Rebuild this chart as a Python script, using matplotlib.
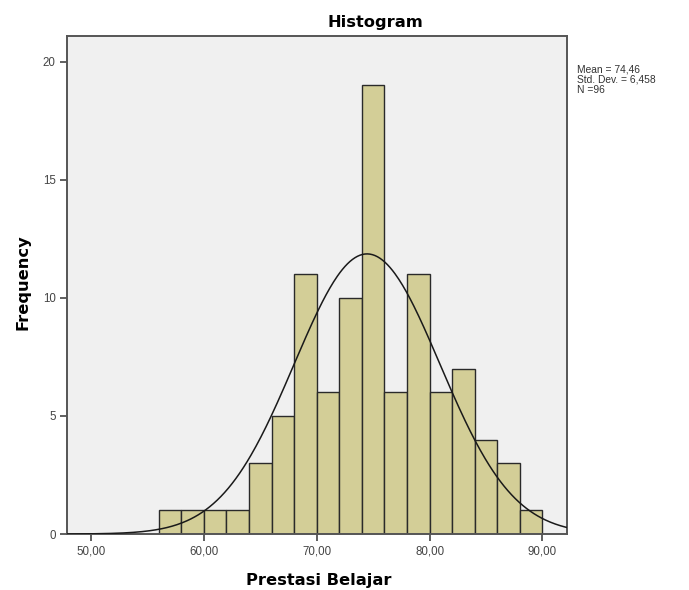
import numpy as np
import matplotlib
matplotlib.use('Agg')
import matplotlib.pyplot as plt

# Histogram of "Prestasi Belajar" (SPSS style output)
bin_edges = [56, 58, 60, 62, 64, 66, 68, 70, 72, 74, 76, 78, 80, 82, 84, 86, 88, 90]
counts = [1, 1, 1, 1, 3, 5, 11, 6, 10, 19, 6, 11, 6, 7, 4, 3, 1]
mean = 74.46
std_dev = 6.458
n_total = 96
x_ticks = [50, 60, 70, 80, 90]
x_tick_labels = ['50,00', '60,00', '70,00', '80,00', '90,00']
y_ticks = [0, 5, 10, 15, 20]

plt.rcParams['font.family'] = ['Liberation Sans', 'DejaVu Sans']

fig = plt.figure(figsize=(6.89, 5.90), dpi=100)
ax = fig.add_axes([0.0968, 0.0949, 0.7257, 0.8446])
ax.set_facecolor('#f0f0f0')

lefts = np.array(bin_edges[:-1])
widths = np.diff(bin_edges)
ax.bar(lefts, counts, width=widths, align='edge', color='#d3ce97',
       edgecolor='#2a2a2a', linewidth=1.0, zorder=2)

# normal curve scaled to the histogram
xs = np.linspace(47.85, 92.15, 400)
bin_w = widths[0]
pdf = np.exp(-0.5 * ((xs - mean) / std_dev) ** 2) / (std_dev * np.sqrt(2 * np.pi))
ax.plot(xs, pdf * n_total * bin_w, color='#1a1a1a', linewidth=1.1, zorder=3)

ax.set_xlim(47.85, 92.15)
ax.set_ylim(0, 21.1)
ax.set_xticks(x_ticks)
ax.set_xticklabels(x_tick_labels)
ax.set_yticks(y_ticks)
ax.tick_params(axis='both', labelsize=8.3, colors='#444444', length=5, width=1.2,
               direction='out', pad=3)

for side in ['left', 'bottom', 'top', 'right']:
    ax.spines[side].set_color('#555555')
    ax.spines[side].set_linewidth(1.4)

label_font = dict(family='DejaVu Sans', fontsize=11.7, fontweight='bold')
fig.text(375 / 689, 1 - 27 / 590, 'Histogram', ha='center', va='baseline', **label_font)
fig.text(23 / 689, 1 - 282 / 590, 'Frequency', ha='center', va='center',
         rotation=90, **label_font)
fig.text(319 / 689, 1 - 585 / 590, 'Prestasi Belajar', ha='center', va='baseline',
         **label_font)

stats = 'Mean = {0}\nStd. Dev. = {1}\nN ={2}'.format(
    f'{mean:.2f}'.replace('.', ','), f'{std_dev:.3f}'.replace('.', ','), n_total)
fig.text(577 / 689, 1 - 65 / 590, stats, ha='left', va='top', fontsize=7.4,
         color='#333333', linespacing=1.0)

fig.savefig('out.png', dpi=100)
